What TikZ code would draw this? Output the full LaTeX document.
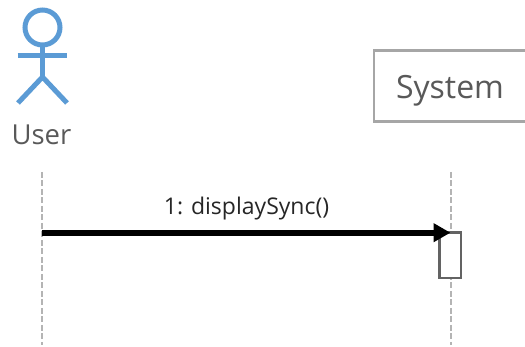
\documentclass[tikz,border=0pt]{standalone}
\usepackage{fontspec}
\setmainfont{Open Sans}
\usetikzlibrary{arrows.meta}
\definecolor{actorblue}{HTML}{5B9BD5}
\definecolor{labelgrey}{HTML}{595959}
\definecolor{boxgrey}{HTML}{A6A6A6}
\definecolor{lifegrey}{HTML}{B4B4B4}
\definecolor{actgrey}{HTML}{636363}
\tikzset{
  actorline/.style={draw=actorblue,line width=5pt},
  lifeline/.style={draw=lifegrey,line width=2pt,dash pattern=on 6pt off 2.5pt},
  activation/.style={draw=actgrey,fill=white,line width=2.3pt,inner sep=0pt,minimum width=21.5pt,minimum height=45.5pt},
  message/.style={draw=black,line width=6pt,-{Triangle[length=17pt,width=18pt]}},
  objectbox/.style={draw=boxgrey,fill=white,line width=2.4pt,inner sep=0pt,minimum width=170pt,minimum height=71pt},
}
\begin{document}
\begin{tikzpicture}[x=1pt,y=-1pt]
\clip (0,0) rectangle (525,347);
% actor
\node[circle,actorline,minimum size=35pt,inner sep=0pt] (head) at (42.5,27.5) {};
\coordinate (hip) at (42.5,77);
\coordinate (armL) at (17.5,56);
\coordinate (armR) at (67,56);
\coordinate (footL) at (18,103);
\coordinate (footR) at (67,103);
\draw[actorline] (head.south) -- (hip);
\draw[actorline] (armL) -- (armR);
\draw[actorline,line join=miter] (footL) -- (hip) -- (footR);
\node[text=labelgrey,font=\fontsize{27.5}{32}\selectfont,anchor=base] (user) at (41.5,145) {User};
% object box
\node[objectbox,anchor=north west] (system) at (372.6,49.5) {};
\node[text=labelgrey,font=\fontsize{32}{36}\selectfont,anchor=base] (systemtext) at (450,99) {System};
% lifelines
\coordinate (ut) at (41.5,172);
\coordinate (ub) at (41.5,345);
\coordinate (st) at (450.5,172);
\coordinate (sb) at (450.5,345);
\draw[lifeline] (ut) -- (ub);
\draw[lifeline] (st) -- (sb);
% activation
\node[activation,anchor=north] (act) at (450.2,231.5) {};
% message
\coordinate (msgstart) at (41.5,232.7);
\coordinate (msgend) at (450.5,232.7);
\draw[message] (msgstart) -- (msgend);
\node[text=black!85,font=\fontsize{23}{26}\selectfont,anchor=base] (msg) at (246.5,215) {1: displaySync()};
\end{tikzpicture}
\end{document}
